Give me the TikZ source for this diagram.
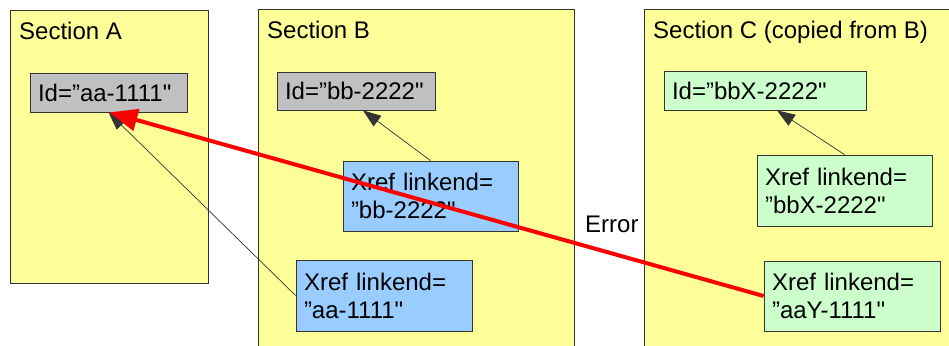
\documentclass[tikz,border=0pt]{standalone}
\usepackage{fontspec}
\setmainfont{Liberation Sans}
\usetikzlibrary{arrows.meta}
\definecolor{secyellow}{RGB}{255,255,153}
\definecolor{idgray}{RGB}{192,192,192}
\definecolor{refblue}{RGB}{153,204,255}
\definecolor{copygreen}{RGB}{204,255,204}
\definecolor{edge}{RGB}{51,51,51}
\begin{document}
\begin{tikzpicture}[x=1pt,y=-1pt,
  every node/.style={font=\fontsize{24}{28}\selectfont},
  section/.style={draw=edge,fill=secyellow,line width=0.8pt},
  box/.style={draw=edge,line width=0.8pt,inner xsep=8pt,inner ysep=0pt,align=left},
  lbl/.style={anchor=base west,inner sep=0pt},
  link/.style={draw=edge,line width=0.7pt,-{Triangle[length=18pt,width=13pt]}},
  err/.style={draw=red,line width=4pt,-{Triangle[length=28pt,width=22pt]}}]
\useasboundingbox (0,0) rectangle (949,345);
\clip (0,0) rectangle (949,345);
% sections
\draw[section] (10,10) rectangle (208,283);
\draw[section] (258,9) rectangle (574,360);
\draw[section] (644,9) rectangle (960,360);
\node[lbl] (secA) at (19,40) {Section A};
\node[lbl] (secB) at (267,38) {Section B};
\node[lbl] (secC) at (653,38) {Section C (copied from B)};
% ids and xrefs
\node[box,fill=idgray,text width=141pt,minimum height=39pt] (idaa) at (108.5,92.5) {Id=”aa-1111\textquotedbl};
\node[box,fill=idgray,text width=142pt,minimum height=38pt] (idbb) at (356,91) {Id=”bb-2222\textquotedbl};
\node[box,fill=refblue,text width=159pt,minimum height=70pt] (xbb) at (430.5,196) {Xref linkend=\\”bb-2222\textquotedbl};
\node[box,fill=refblue,text width=160pt,minimum height=71pt] (xaa) at (384,295.5) {Xref linkend=\\”aa-1111\textquotedbl};
\node[box,fill=copygreen,text width=186pt,minimum height=39pt] (idbbx) at (765,90.5) {Id=”bbX-2222\textquotedbl};
\node[box,fill=copygreen,text width=159pt,minimum height=71pt] (xbbx) at (844.5,190.5) {Xref linkend=\\”bbX-2222\textquotedbl};
\node[box,fill=copygreen,text width=160pt,minimum height=70pt] (xaay) at (852,296) {Xref linkend=\\”aaY-1111\textquotedbl};
% links
\draw[link] (xaa.west) -- (idaa.south);
\draw[link] (xbb.north) -- ([xshift=7pt]idbb.south);
\draw[link] (xbbx.north) -- ([xshift=12pt]idbbx.south);
\draw[err] (xaay.west) -- ([xshift=1pt]idaa.south);
\node[lbl] (error) at (585,232) {Error};
\end{tikzpicture}
\end{document}
